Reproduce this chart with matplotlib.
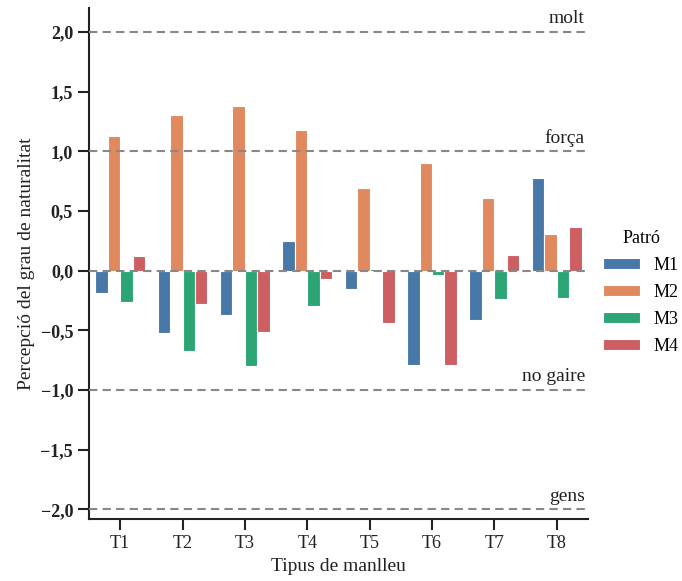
import numpy as np
import matplotlib
matplotlib.use("Agg")
import matplotlib.pyplot as plt
from matplotlib.ticker import FuncFormatter

# data
tipus = ["T1", "T2", "T3", "T4", "T5", "T6", "T7", "T8"]
patrons = ["M1", "M2", "M3", "M4"]
m1 = [-0.19, -0.52, -0.37, 0.25, -0.15, -0.79, -0.41, 0.78]
m2 = [1.13, 1.30, 1.38, 1.18, 0.69, 0.90, 0.61, 0.31]
m3 = [-0.26, -0.67, -0.80, -0.30, 0.01, -0.04, -0.24, -0.23]
m4 = [0.12, -0.28, -0.51, -0.07, -0.44, -0.79, 0.13, 0.37]
colors = ["#4878A8", "#E0895E", "#2CA574", "#CD5E62"]

nivells = [2.0, 1.0, -1.0, -2.0]
nivell_labels = ["molt", "força", "no gaire", "gens"]

plt.rcParams["font.family"] = ["Liberation Serif", "DejaVu Serif"]

fig = plt.figure(figsize=(6.82, 5.81), dpi=100)
ax = fig.add_axes([0.1305, 0.1067, 0.7315, 0.8795])

x = np.arange(len(tipus))
width = 0.2
for i, (vals, name) in enumerate(zip([m1, m2, m3, m4], patrons)):
    ax.bar(x + (i - 1.5) * width, vals, width, color=colors[i], edgecolor="white",
           linewidth=0.8, label=name, zorder=2)

for y in nivells + [0.0]:
    ax.axhline(y, color="#888888", linestyle=(0, (4, 2.5)), linewidth=1.5, zorder=3)
for y, lab in zip(nivells, nivell_labels):
    ax.text(7.45, y + 0.04, lab, ha="right", va="bottom", fontsize=14, color="#222222")

ax.set_xlim(-0.5, 7.5)
ax.set_ylim(-2.08, 2.2)
ax.set_xticks(x)
ax.set_xticklabels(tipus)
ax.set_yticks(np.arange(-2.0, 2.01, 0.5))
ax.yaxis.set_major_formatter(FuncFormatter(
    lambda v, p: f"{v:.1f}".replace(".", ",").replace("-", "\u2212")))
for lab in ax.get_yticklabels():
    lab.set_fontweight("bold")

ax.tick_params(axis="both", length=8, width=1.5, labelsize=13, colors="#222222")
ax.spines["top"].set_visible(False)
ax.spines["right"].set_visible(False)
for s in ["left", "bottom"]:
    ax.spines[s].set_linewidth(1.5)
    ax.spines[s].set_color("#222222")

ax.set_xlabel("Tipus de manlleu", fontsize=14, color="#222222")
ax.set_ylabel("Percepció del grau de naturalitat", fontsize=14, color="#222222")

leg = fig.legend(title="Patró", loc="center left", bbox_to_anchor=(0.861, 0.497),
                 frameon=False, fontsize=13, title_fontsize=13,
                 handlelength=2.0, handleheight=0.6, labelspacing=0.55,
                 handletextpad=0.8)

fig.savefig("out.png", dpi=100)
